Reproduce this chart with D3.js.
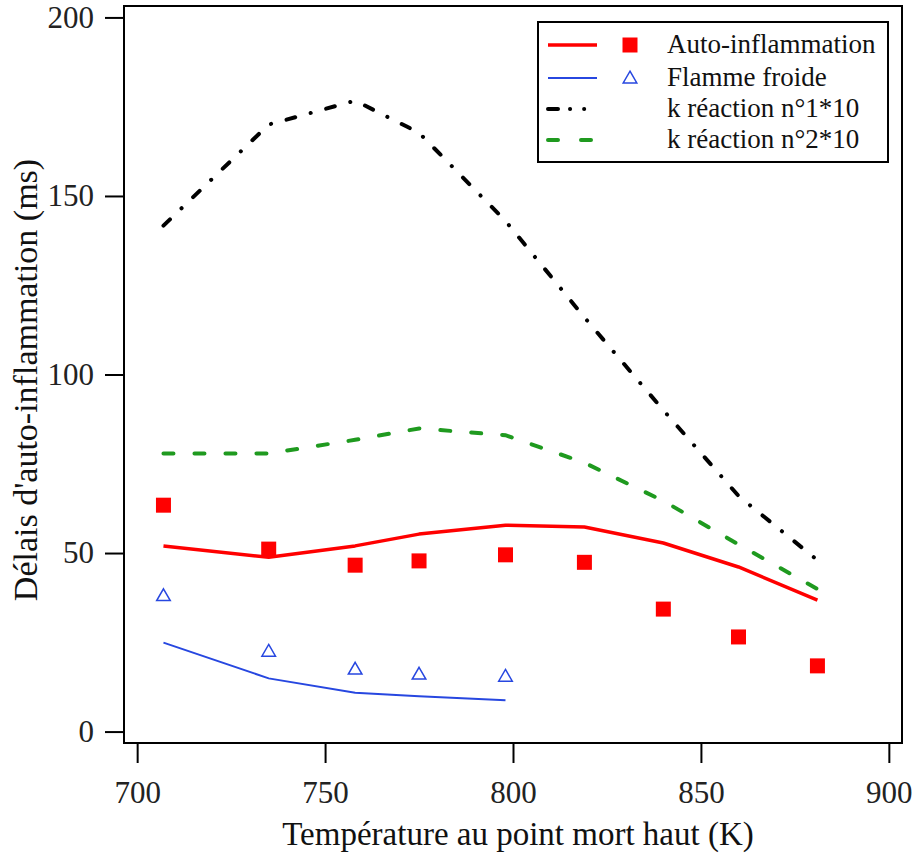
<!DOCTYPE html>
<html><head><meta charset="utf-8">
<script src="https://cdn.jsdelivr.net/npm/d3@7"></script>
<style>body{margin:0;background:#fff}svg{display:block}text{font-family:"Liberation Serif","Times New Roman",serif}</style>
</head><body><svg id="c" width="917" height="854"></svg>
<script>
const temperatures = [707, 735, 758, 775, 798, 819, 840, 860, 881];
const autoModel    = [52.0, 48.8, 52.0, 55.3, 57.8, 57.3, 52.8, 46.1, 36.8];
const autoExp      = [63.4, 51.1, 46.6, 47.8, 49.5, 47.4, 34.3, 26.5, 18.4];
const coldTemps    = [707, 735, 758, 775, 798];
const coldModel    = [24.9, 14.9, 10.9, 9.9, 8.8];
const coldExp      = [37.8, 22.2, 17.2, 15.8, 15.2];
const kReaction1   = [141.7, 170.0, 176.7, 167.7, 143.0, 116.0, 90.0, 66.0, 48.0];
const kReaction2   = [77.9, 77.9, 81.7, 84.9, 83.0, 75.3, 64.6, 52.4, 39.9];
const xTicks = [700, 750, 800, 850, 900];
const yTicks = [0, 50, 100, 150, 200];
const legendLabels = ["Auto-inflammation", "Flamme froide", "k réaction n°1*10", "k réaction n°2*10"];

const svg = d3.select("#c");
const L = 124, R = 902, T = 6, B = 743;
const x = d3.scaleLinear().domain([696.5, 903.5]).range([L, R]);
const y = d3.scaleLinear().domain([-3.2, 203.2]).range([B, T]);

const RED = "#ff0000", BLUE = "#2747e0", GREEN = "#1f9a1f", BLACK = "#000";

// axes
const xa = svg.append("g").attr("transform", `translate(0,${B})`)
  .call(d3.axisBottom(x).tickValues(xTicks).tickSize(20).tickPadding(18).tickFormat(d3.format("d")));
const ya = svg.append("g").attr("transform", `translate(${L},0)`)
  .call(d3.axisLeft(y).tickValues(yTicks).tickSize(19).tickPadding(11).tickFormat(d3.format("d")));
[xa, ya].forEach(a => {
  a.select(".domain").remove();
  a.selectAll(".tick line").attr("stroke", "#000").attr("stroke-width", 2);
  a.selectAll(".tick text").attr("font-size", 31).attr("fill", "#222")
    .style("font-family", '"Liberation Serif", serif');
});
// frame
svg.append("rect").attr("x", L).attr("y", T).attr("width", R - L).attr("height", B - T)
  .attr("fill", "none").attr("stroke", "#000").attr("stroke-width", 2);

svg.append("text").attr("x", 518).attr("y", 845).attr("text-anchor", "middle")
  .attr("font-size", 33).attr("fill", "#111").text("Température au point mort haut (K)");
svg.append("text").attr("transform", "translate(37,380) rotate(-90)").attr("text-anchor", "middle")
  .attr("font-size", 34).attr("fill", "#111").text("Délais d'auto-inflammation (ms)");

const line = d3.line().x(d => x(d[0])).y(d => y(d[1]));
const zip = (a, b) => a.map((v, i) => [v, b[i]]);

svg.append("path").datum(zip(temperatures, kReaction1)).attr("d", line)
  .attr("fill", "none").attr("stroke", BLACK).attr("stroke-width", 4)
  .attr("stroke-linecap", "round").attr("stroke-dasharray", "9,16,0.1,16");
svg.append("path").datum(zip(temperatures, kReaction2)).attr("d", line)
  .attr("fill", "none").attr("stroke", GREEN).attr("stroke-width", 4)
  .attr("stroke-linecap", "round").attr("stroke-dasharray", "10,21");
svg.append("path").datum(zip(temperatures, autoModel)).attr("d", line)
  .attr("fill", "none").attr("stroke", RED).attr("stroke-width", 3.5).attr("stroke-linejoin", "round");
svg.append("path").datum(zip(coldTemps, coldModel)).attr("d", line)
  .attr("fill", "none").attr("stroke", BLUE).attr("stroke-width", 2);

const sq = d3.symbol().type(d3.symbolSquare).size(225);
const tri = d3.symbol().type(d3.symbolTriangle).size(80);
svg.append("g").selectAll("path").data(zip(temperatures, autoExp)).join("path")
  .attr("transform", d => `translate(${x(d[0])},${y(d[1])})`).attr("d", sq).attr("fill", RED);
svg.append("g").selectAll("path").data(zip(coldTemps, coldExp)).join("path")
  .attr("transform", d => `translate(${x(d[0])},${y(d[1])})`).attr("d", tri)
  .attr("fill", "none").attr("stroke", BLUE).attr("stroke-width", 1.5);

// legend
const lg = svg.append("g");
lg.append("rect").attr("x", 538).attr("y", 22).attr("width", 350).attr("height", 140)
  .attr("fill", "#fff").attr("stroke", "#000").attr("stroke-width", 2);
const rows = [45, 78, 109, 140];
const styles = [
  {c: RED, w: 3.5, dash: null},
  {c: BLUE, w: 2, dash: null},
  {c: BLACK, w: 4, dash: "9,16,0.1,16"},
  {c: GREEN, w: 4, dash: "10,21"}
];
rows.forEach((ry, i) => {
  const s = styles[i];
  const p = lg.append("line").attr("x1", 548).attr("x2", 597).attr("y1", ry).attr("y2", ry)
    .attr("stroke", s.c).attr("stroke-width", s.w).attr("stroke-linecap", s.dash ? "round" : "butt");
  if (s.dash) p.attr("stroke-dasharray", i === 2 ? "10,12,0.1,14,0.1,14" : "10,23");
  lg.append("text").attr("x", 667).attr("y", ry + 8).attr("font-size", 27).attr("fill", "#111").text(legendLabels[i]);
});
lg.append("path").attr("transform", `translate(630,${rows[0]})`).attr("d", sq).attr("fill", RED);
lg.append("path").attr("transform", `translate(630,${rows[1] + 1})`).attr("d", tri)
  .attr("fill", "none").attr("stroke", BLUE).attr("stroke-width", 1.5);
</script></body></html>
